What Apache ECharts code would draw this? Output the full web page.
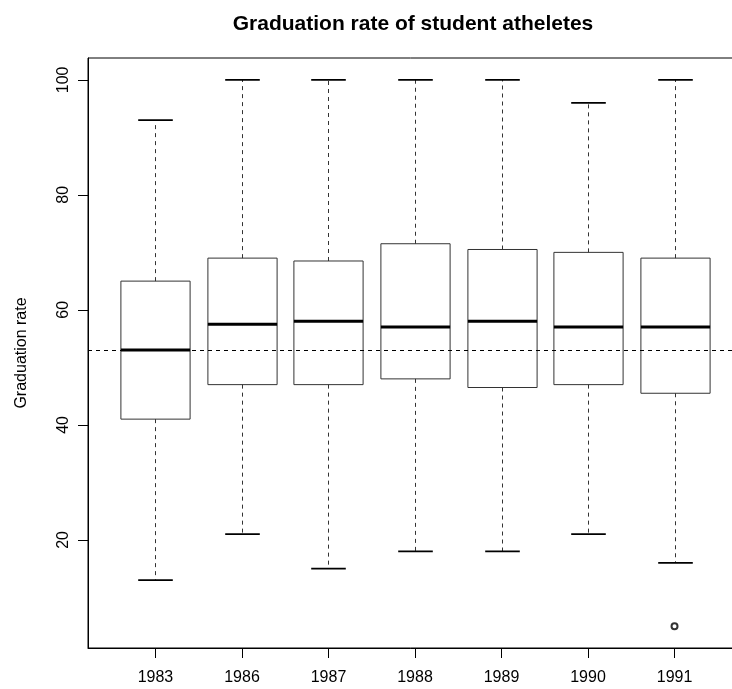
<!DOCTYPE html>
<html>
<head>
<meta charset="utf-8">
<title>Graduation rate of student atheletes</title>
<script src="https://cdn.jsdelivr.net/npm/echarts@6/dist/echarts.min.js"></script>
<style>
  html, body { margin: 0; padding: 0; background: #fff; }
  #chart { width: 732px; height: 689px; }
</style>
</head>
<body>
<div id="chart"></div>
<script>
// Five-number summaries per entering class
const years = ['1983', '1986', '1987', '1988', '1989', '1990', '1991'];
const lowerWhisker = [13, 21, 15, 18, 18, 21, 16];
const lowerHinge   = [41, 47, 47, 48, 46.5, 47, 45.5];
const medians      = [53, 57.5, 58, 57, 58, 57, 57];
const upperHinge   = [65, 69, 68.5, 71.5, 70.5, 70, 69];
const upperWhisker = [93, 100, 100, 100, 100, 96, 100];
// Outlying points: [group index (0-based), value]
const outliers = [[6, 5]];
// Overall median reference line
const overallMedian = 53;
const yTicks = [20, 40, 60, 80, 100];

const FONT = "'Liberation Sans', Arial, Helvetica, sans-serif";

// Axis ranges padded by 4% like base graphics
const allVals = lowerWhisker.concat(upperWhisker, outliers.map(o => o[1]));
const dMin = Math.min.apply(null, allVals), dMax = Math.max.apply(null, allVals);
const yPad = 0.04 * (dMax - dMin);
const xLo = 0.5, xHi = years.length + 0.5, xPad = 0.04 * (xHi - xLo);
const xPositions = years.map((_, i) => i + 1);

const boxData = years.map((_, i) => [i + 1, lowerWhisker[i], lowerHinge[i], medians[i], upperHinge[i], upperWhisker[i]]);
const outlierData = outliers.map(o => [o[0] + 1, o[1]]);

function renderBox(params, api) {
  const x = api.value(0);
  const lo = api.coord([x, api.value(1)]);
  const q1 = api.coord([x, api.value(2)]);
  const md = api.coord([x, api.value(3)]);
  const q3 = api.coord([x, api.value(4)]);
  const hi = api.coord([x, api.value(5)]);
  const hw = api.size([0.8, 0])[0] / 2;
  const cw = hw / 2;
  const cx = Math.round(lo[0]) + 0.5;
  const dash = { stroke: '#333', lineWidth: 1, lineDash: [4, 4] };
  const cap = { stroke: '#000', lineWidth: 1.6 };
  return {
    type: 'group',
    children: [
      { type: 'line', shape: { x1: cx, y1: q3[1], x2: cx, y2: hi[1] }, style: dash },
      { type: 'line', shape: { x1: cx, y1: q1[1], x2: cx, y2: lo[1] }, style: dash },
      { type: 'line', shape: { x1: cx - cw, y1: hi[1], x2: cx + cw, y2: hi[1] }, style: cap },
      { type: 'line', shape: { x1: cx - cw, y1: lo[1], x2: cx + cw, y2: lo[1] }, style: cap },
      { type: 'rect', shape: { x: cx - hw, y: q3[1], width: 2 * hw, height: q1[1] - q3[1] },
        style: { fill: 'none', stroke: '#333', lineWidth: 1 } },
      { type: 'line', shape: { x1: cx - hw, y1: md[1], x2: cx + hw, y2: md[1] },
        style: { stroke: '#000', lineWidth: 3 } }
    ]
  };
}

const chart = echarts.init(document.getElementById('chart'), null, { renderer: 'canvas' });
chart.setOption({
  animation: false,
  backgroundColor: '#fff',
  title: {
    text: 'Graduation rate of student atheletes',
    left: 408, top: 9, textAlign: 'center',
    textStyle: { fontFamily: FONT, fontSize: 21, fontWeight: 'bold', color: '#000' }
  },
  grid: {
    left: 88, top: 58, right: -10, bottom: 41,
    outerBoundsMode: 'none', containLabel: false,
    show: true, borderColor: '#000', borderWidth: 1, backgroundColor: 'transparent'
  },
  xAxis: {
    type: 'value',
    min: xLo - xPad, max: xHi + xPad,
    axisLine: { show: true, lineStyle: { color: '#000', width: 1 } },
    axisTick: { show: true, customValues: xPositions, length: 10, lineStyle: { color: '#000' } },
    axisLabel: {
      customValues: xPositions, margin: 22,
      formatter: v => years[Math.round(v) - 1] || '',
      fontFamily: FONT, fontSize: 16, color: '#000'
    },
    splitLine: { show: false }
  },
  yAxis: {
    type: 'value',
    min: dMin - yPad, max: dMax + yPad,
    name: 'Graduation rate', nameLocation: 'middle', nameGap: 58, nameRotate: 90,
    nameTextStyle: { fontFamily: FONT, fontSize: 16, color: '#000' },
    axisLine: { show: true, lineStyle: { color: '#000', width: 1 } },
    axisTick: { show: true, customValues: yTicks, length: 10, lineStyle: { color: '#000' } },
    axisLabel: {
      customValues: yTicks, rotate: 90, margin: 16,
      fontFamily: FONT, fontSize: 16, color: '#000'
    },
    splitLine: { show: false }
  },
  series: [
    {
      type: 'custom',
      renderItem: renderBox,
      data: boxData,
      encode: { x: 0, y: [1, 2, 3, 4, 5] },
      z: 2,
      markLine: {
        silent: true, symbol: 'none',
        label: { show: false },
        lineStyle: { color: '#000', width: 1, type: [4, 4] },
        data: [{ yAxis: overallMedian }]
      }
    },
    {
      type: 'scatter',
      data: outlierData,
      symbol: 'emptyCircle', symbolSize: 6,
      itemStyle: { color: '#000', borderColor: '#000', borderWidth: 1 },
      z: 3
    }
  ]
});
</script>
</body>
</html>
